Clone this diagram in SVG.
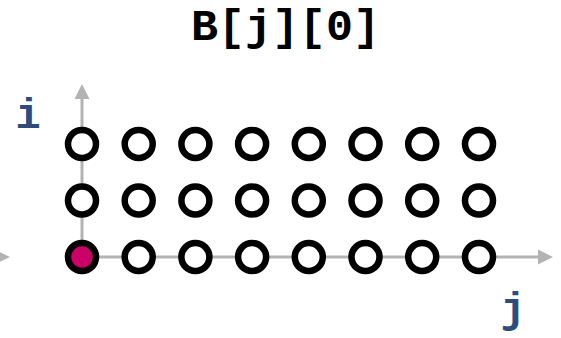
<svg xmlns="http://www.w3.org/2000/svg" width="561" height="338" viewBox="0 0 561 338">
<style>
.ax{stroke:#b3b3b3;stroke-width:3;fill:none}
.ah{fill:#b3b3b3}
.pt{fill:#fff;stroke:#000;stroke-width:6.5}
.hl{fill:#cc0066;stroke:#000;stroke-width:6.5}
.lbl{font-family:"Liberation Mono","Courier New",monospace;font-weight:bold;fill:#2b4c7e;font-size:42px;text-anchor:middle}
.ttl{font-family:"Liberation Mono","Courier New",monospace;font-weight:bold;fill:#000;font-size:45px;text-anchor:middle}
</style>
<rect width="561" height="338" fill="#fff"/>
<g id="connectors">
<line class="ax" x1="82" y1="257" x2="540" y2="257"/>
<polygon class="ah" points="538,249.5 553,257 538,264.5"/>
<line class="ax" x1="82" y1="257" x2="82" y2="97"/>
<polygon class="ah" points="74.5,99 82,84 89.5,99"/>
<polygon class="ah" points="-5,250 10,257 -5,264"/>
</g>
<g id="title"><text class="ttl" x="285.5" y="40">B[j][0]</text></g>
<g id="label-i"><text class="lbl" x="28" y="128">i</text></g>
<g id="label-j"><text class="lbl" x="513" y="322">j</text></g>
<g id="points">
<circle class="pt" cx="82" cy="144" r="14"/><circle class="pt" cx="138.7" cy="144" r="14"/><circle class="pt" cx="195.4" cy="144" r="14"/><circle class="pt" cx="252.1" cy="144" r="14"/><circle class="pt" cx="308.8" cy="144" r="14"/><circle class="pt" cx="365.5" cy="144" r="14"/><circle class="pt" cx="422.2" cy="144" r="14"/><circle class="pt" cx="479" cy="144" r="14"/>
<circle class="pt" cx="82" cy="200.5" r="14"/><circle class="pt" cx="138.7" cy="200.5" r="14"/><circle class="pt" cx="195.4" cy="200.5" r="14"/><circle class="pt" cx="252.1" cy="200.5" r="14"/><circle class="pt" cx="308.8" cy="200.5" r="14"/><circle class="pt" cx="365.5" cy="200.5" r="14"/><circle class="pt" cx="422.2" cy="200.5" r="14"/><circle class="pt" cx="479" cy="200.5" r="14"/>
<circle class="hl" cx="82" cy="257" r="14"/><circle class="pt" cx="138.7" cy="257" r="14"/><circle class="pt" cx="195.4" cy="257" r="14"/><circle class="pt" cx="252.1" cy="257" r="14"/><circle class="pt" cx="308.8" cy="257" r="14"/><circle class="pt" cx="365.5" cy="257" r="14"/><circle class="pt" cx="422.2" cy="257" r="14"/><circle class="pt" cx="479" cy="257" r="14"/>
</g>
</svg>
